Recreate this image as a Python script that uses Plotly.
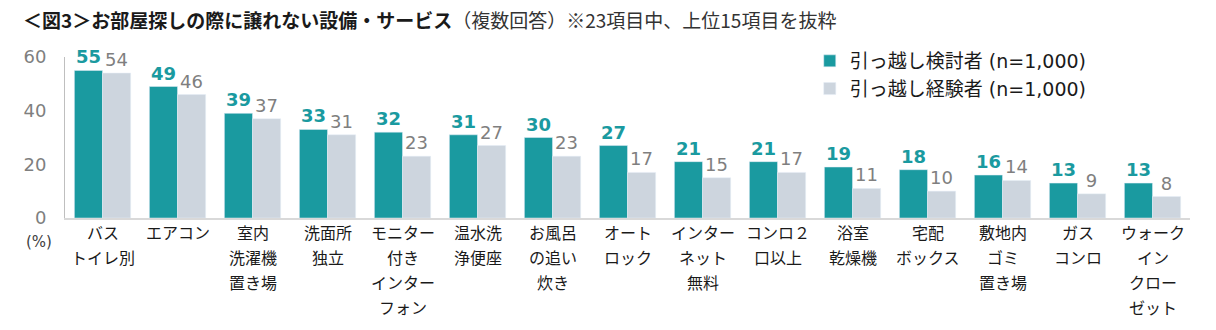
import plotly.graph_objects as go

categories = [
    "バス<br>トイレ別", "エアコン", "室内<br>洗濯機<br>置き場", "洗面所<br>独立",
    "モニター<br>付き<br>インター<br>フォン", "温水洗<br>浄便座", "お風呂<br>の追い<br>炊き",
    "オート<br>ロック", "インター<br>ネット<br>無料", "コンロ２<br>口以上", "浴室<br>乾燥機",
    "宅配<br>ボックス", "敷地内<br>ゴミ<br>置き場", "ガス<br>コンロ", "ウォーク<br>イン<br>クロー<br>ゼット",
]
considering = [55, 49, 39, 33, 32, 31, 30, 27, 21, 21, 19, 18, 16, 13, 13]
experienced = [54, 46, 37, 31, 23, 27, 23, 17, 15, 17, 11, 10, 14, 9, 8]
series_names = ["引っ越し検討者 (n=1,000)", "引っ越し経験者 (n=1,000)"]
y_ticks = [0, 20, 40, 60]

TEAL = "#1A9AA0"
GREY = "#CDD5DE"
FONT = "DejaVu Sans, Noto Sans CJK JP"
CJK = "Noto Sans CJK JP"

# pixel geometry helpers (plot area: y=0 at 218px, y=60 at 57px)
PLOT_TOP, PLOT_H = 57, 161
def paper_y(px):
    return (PLOT_TOP + PLOT_H - px) / PLOT_H

fig = go.Figure()
fig.add_trace(go.Bar(
    x=categories, y=considering, name=series_names[0], marker_color=TEAL,
    text=[f"<b>{v}</b>" for v in considering], textposition="outside",
    textfont=dict(color=TEAL, size=18, family=FONT), cliponaxis=False,
))
fig.add_trace(go.Bar(
    x=categories, y=experienced, name=series_names[1], marker_color=GREY,
    text=[str(v) for v in experienced], textposition="outside",
    textfont=dict(color="#7F7F7F", size=18, family=FONT), cliponaxis=False,
))

fig.update_layout(
    width=1216, height=330,
    margin=dict(l=65, r=26, t=PLOT_TOP, b=330 - PLOT_TOP - PLOT_H),
    paper_bgcolor="white", plot_bgcolor="white",
    barmode="group", bargap=0.25, bargroupgap=0,
    font=dict(family=FONT, size=16, color="#1A1A1A"),
    showlegend=True,
    legend=dict(x=0.662, y=paper_y(42), xanchor="left", yanchor="top",
                font=dict(size=19, color="#1A1A1A", family=FONT), bgcolor="rgba(0,0,0,0)",
                tracegroupgap=0),
)
fig.update_xaxes(
    showline=True, linecolor="#D9D9D9", linewidth=2, ticks="",
    showticklabels=False, showgrid=False,
)
fig.update_yaxes(
    range=[0, 60], tickvals=y_ticks, showgrid=False, zeroline=False,
    showline=True, linecolor="#BFBFBF", linewidth=1, ticks="outside", ticklen=14,
    tickcolor="rgba(0,0,0,0)", tickfont=dict(size=18, color="#7F7F7F", family=FONT),
)

# category labels, one line per annotation so the line spacing matches
for cat in categories:
    for i, line in enumerate(cat.split("<br>")):
        fig.add_annotation(
            xref="x", yref="paper", x=cat, y=paper_y(232 + 25 * i),
            xanchor="center", yanchor="middle", text=line, showarrow=False,
            font=dict(size=16, color="#1A1A1A", family=CJK),
        )

fig.add_annotation(
    xref="paper", yref="paper", x=(39 - 65) / 1125, y=paper_y(242),
    xanchor="center", yanchor="middle",
    text="(%)", showarrow=False, font=dict(size=15, color="#404040", family=FONT),
)
fig.add_annotation(
    xref="paper", yref="paper", x=(21 - 65) / 1125, y=paper_y(20), xanchor="left", yanchor="middle",
    text="<b>＜図3＞お部屋探しの際に譲れない設備・サービス</b>"
         "<span style='color:#333333'>（複数回答）※23項目中、上位15項目を抜粋</span>",
    showarrow=False, font=dict(size=19, color="#1A1A1A", family=CJK),
)

fig.write_html("out.html")
